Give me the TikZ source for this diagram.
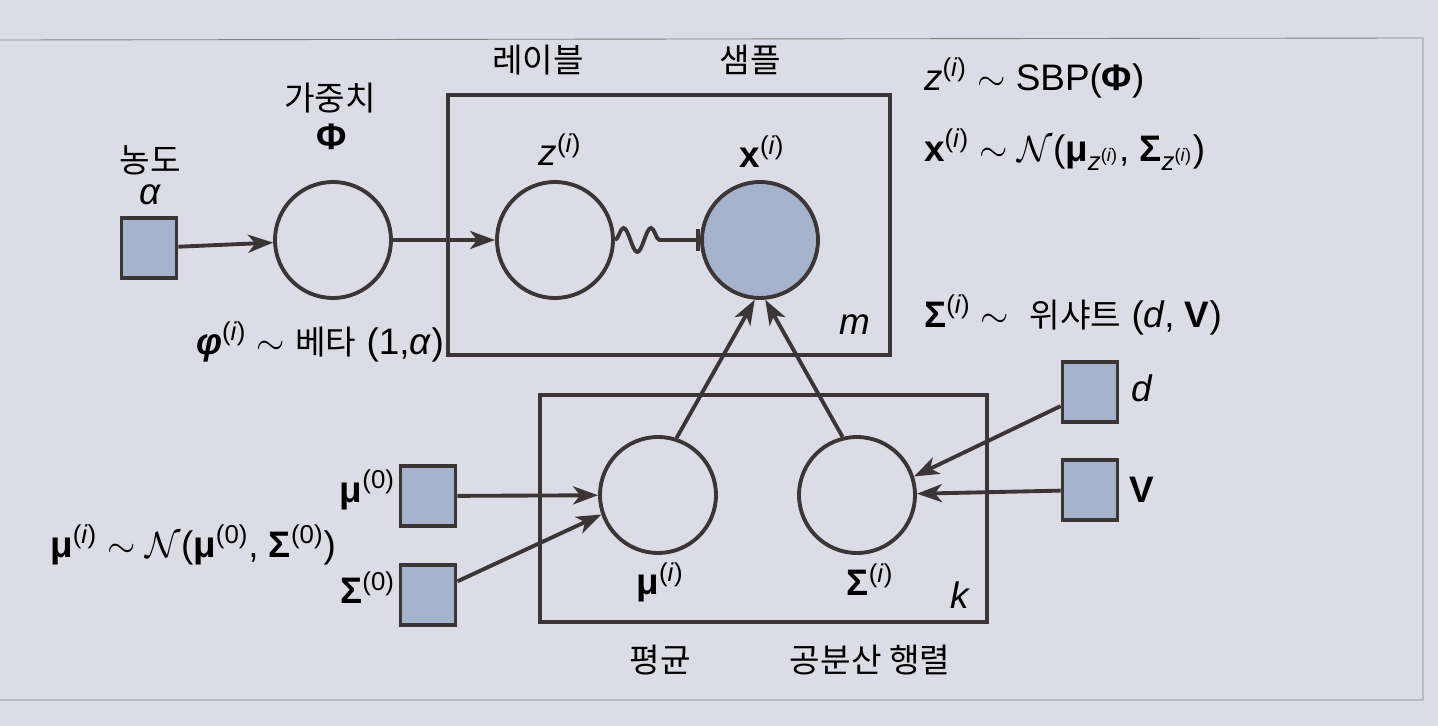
\documentclass[tikz,border=0pt]{standalone}
\usepackage{fontspec}
\usepackage{amsmath}
\setmainfont{Liberation Sans}
\newfontfamily\kr[Scale=0.9]{Noto Sans CJK KR}
\usetikzlibrary{arrows.meta,decorations.pathmorphing}
\definecolor{ink}{HTML}{3B3535}
\definecolor{paper}{HTML}{DCDCE6}
\definecolor{obs}{HTML}{A5B4CC}
\tikzset{
  var/.style={circle, draw=ink, line width=2.2pt, minimum size=2.32cm, inner sep=0pt},
  hyper/.style={rectangle, draw=ink, line width=2.2pt, fill=obs, minimum width=1.1cm, minimum height=1.2cm, inner sep=0pt},
  plate/.style={draw=ink, line width=2.2pt},
  edge/.style={draw=ink, line width=2.2pt, -{Stealth[length=5mm, width=3.6mm, inset=1.4mm]}},
  lbl/.style={font=\fontsize{21}{24}\selectfont, text=black, inner sep=1pt}
}
\newcommand{\idx}[1]{\textsuperscript{(#1)}}
\begin{document}
\begin{tikzpicture}[x=0.02cm, y=-0.02cm]
    % page background and figure frame
    \fill[paper] (0,0) rectangle (1438,726);
    \useasboundingbox (0,0) rectangle (1438,726);
    \draw[gray, line width=0.5pt] (0,40) -- (1423,38) -- (1423,700) -- (0,700);

    % plates
    \draw[plate] (448,95) rectangle (890,355); % plate m
    \draw[plate] (540,395) rectangle (987,622); % plate k

    % nodes
    \node[hyper] (alpha) at (149,248) {};
    \node[var] (phi) at (333,240) {};
    \node[var] (z) at (555,240) {};
    \node[var, fill=obs] (x) at (760,240) {};
    \node[var] (mu) at (658,495) {};
    \node[var] (Sigma) at (857,495) {};
    \node[hyper] (mu0) at (428,496) {};
    \node[hyper] (Sigma0) at (428,595) {};
    \node[hyper] (d) at (1090,392) {};
    \node[hyper] (V) at (1090,490) {};

    % labels
    \node[lbl] (conc) at (150,160) {\kr 농도};
    \node[lbl] (alphatxt) at (150,195) {\textit{α}};
    \node[lbl] (weight) at (330,98) {\kr 가중치};
    \node[lbl] (phitxt) at (332,137) {\textbf{Φ}};
    \node[lbl] (labeltxt) at (538,60) {\kr 레이블};
    \node[lbl] (sampletxt) at (750,60) {\kr 샘플};
    \node[lbl] (ztxt) at (560,150) {\textit{z}\idx{\textit{i}}};
    \node[lbl] (xtxt) at (762,152) {\textbf{x}\idx{\textit{i}}};
    \node[lbl] (betatxt) at (320,342) {\textbf{\textit{φ}}\idx{\textit{i}} $\sim$ {\kr 베타} (1,\textit{α})};
    \node[lbl] (mtxt) at (855,325) {\textit{m}};
    \node[lbl, anchor=west] (sbp) at (922,78) {\textit{z}\idx{\textit{i}} $\sim$ SBP(\textbf{Φ})};
    \node[lbl, anchor=west] (xdist) at (922,150) {\textbf{x}\idx{\textit{i}} $\sim\mathcal{N}$(\textbf{μ}\textsubscript{\textit{z}\idx{\textit{i}}}, \textbf{Σ}\textsubscript{\textit{z}\idx{\textit{i}}})};
    \node[lbl, anchor=west] (wishart) at (922,315) {\textbf{Σ}\idx{\textit{i}} $\sim$ \ {\kr 위샤트} (\textit{d}, \textbf{V})};
    \node[lbl] (dtxt) at (1142,388) {\textit{d}};
    \node[lbl] (Vtxt) at (1142,490) {\textbf{V}};
    \node[lbl, anchor=east] (mu0txt) at (397,490) {\textbf{μ}\idx{0}};
    \node[lbl, anchor=east] (Sigma0txt) at (397,588) {\textbf{Σ}\idx{0}};
    \node[lbl] (mudist) at (193,545) {\textbf{μ}\idx{\textit{i}} $\sim\mathcal{N}$(\textbf{μ}\idx{0}, \textbf{Σ}\idx{0})};
    \node[lbl] (mutxt) at (660,582) {\textbf{μ}\idx{\textit{i}}};
    \node[lbl] (Sigmatxt) at (870,580) {\textbf{Σ}\idx{\textit{i}}};
    \node[lbl] (ktxt) at (960,595) {\textit{k}};
    \node[lbl] (meantxt) at (660,660) {\kr 평균};
    \node[lbl] (covtxt) at (870,660) {\kr 공분산 행렬};

    % connectors
    \draw[edge] (alpha) -- (phi);
    \draw[edge] (phi) -- (z);
    \draw[draw=ink, line width=2.2pt, -{Bar[width=4.5mm]}, decorate,
      decoration={snake, amplitude=2.4mm, segment length=5.5mm, pre length=0pt, post length=6mm}] (z) -- (x);
    \draw[edge] (mu.72) -- (x.265);
    \draw[edge] (Sigma.104) -- (x.275);
    \draw[edge] (mu0) -- (mu);
    \draw[edge] (Sigma0) -- (mu.199);
    \draw[edge] (d) -- (Sigma.18);
    \draw[edge] (V) -- (Sigma);
\end{tikzpicture}
\end{document}
